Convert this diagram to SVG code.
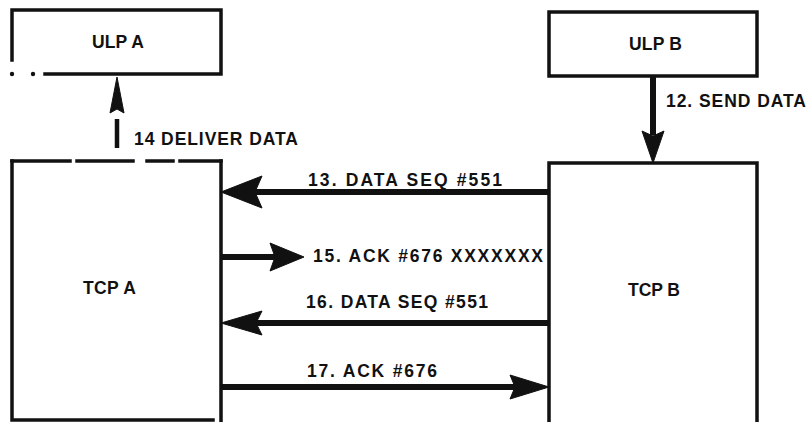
<svg xmlns="http://www.w3.org/2000/svg" width="806" height="422" viewBox="0 0 806 422">
<style>
.box{fill:none;stroke:#111;stroke-width:3.5;stroke-linecap:square}
.lbl{font-family:"Liberation Sans",Arial,sans-serif;font-weight:bold;font-size:17.5px;fill:#111}
.sh{stroke:#111;stroke-width:6;fill:none}
.hd{fill:#111;stroke:#111;stroke-width:1;stroke-linejoin:miter}
</style>
<rect width="806" height="422" fill="#fff"/>
<g id="ulpA">
<path class="box" d="M12,60 L12,10 L221,10 L221,74 L45,74"/>
<circle cx="12" cy="74" r="2.2" fill="#111"/>
<circle cx="33" cy="74" r="2.2" fill="#111"/>
<text class="lbl" x="92" y="48" textLength="52" lengthAdjust="spacing">ULP A</text>
</g>
<g id="ulpB">
<rect class="box" x="549" y="12" width="208" height="64"/>
<text class="lbl" x="629" y="50" textLength="53" lengthAdjust="spacing">ULP B</text>
</g>
<g id="tcpA">
<path class="box" d="M12,161 L12,420 L213,420 M221,161 L221,422"/>
<path class="box" d="M12,161 L70,161 M77,161 L133,161 M147,161 L173,161 M180,161 L221,161"/>
<text class="lbl" x="83" y="294" textLength="53" lengthAdjust="spacing">TCP A</text>
</g>
<g id="tcpB">
<path class="box" d="M549,422 L549,163 L757,163 L757,422"/>
<text class="lbl" x="628" y="296" textLength="52" lengthAdjust="spacing">TCP B</text>
</g>
<g id="connectors">
<line class="sh" x1="653" y1="76" x2="653" y2="135"/>
<path class="hd" d="M653,163 L642,131 L653,136 L664,131 Z"/>
<text class="lbl" x="666" y="107" textLength="140" lengthAdjust="spacing">12. SEND DATA</text>
<line class="sh" x1="549" y1="192" x2="255" y2="192"/>
<path class="hd" d="M221,192 L262,176 L255,192 L262,208 Z"/>
<text class="lbl" x="308" y="186" textLength="194" lengthAdjust="spacing">13. DATA SEQ #551</text>
<line x1="117" y1="148" x2="117" y2="119" stroke="#111" stroke-width="4.5"/>
<path class="hd" d="M117,77 L124,113 L117,109 L110,113 Z"/>
<text class="lbl" x="134" y="145" textLength="164" lengthAdjust="spacing">14 DELIVER DATA</text>
<line class="sh" x1="221" y1="257" x2="275" y2="257"/>
<path class="hd" d="M304,257 L270,243 L275,257 L270,271 Z"/>
<text class="lbl" x="313" y="262" textLength="230" lengthAdjust="spacing">15. ACK #676 XXXXXXX</text>
<line class="sh" x1="549" y1="323" x2="255" y2="323"/>
<path class="hd" d="M221,323 L262,311 L256,323 L262,335 Z"/>
<text class="lbl" x="306" y="308" textLength="182" lengthAdjust="spacing">16. DATA SEQ #551</text>
<line class="sh" x1="221" y1="387" x2="515" y2="387"/>
<path class="hd" d="M549,387 L510,375 L515,387 L510,399 Z"/>
<text class="lbl" x="307" y="377" textLength="130" lengthAdjust="spacing">17. ACK #676</text>
</g>
</svg>
